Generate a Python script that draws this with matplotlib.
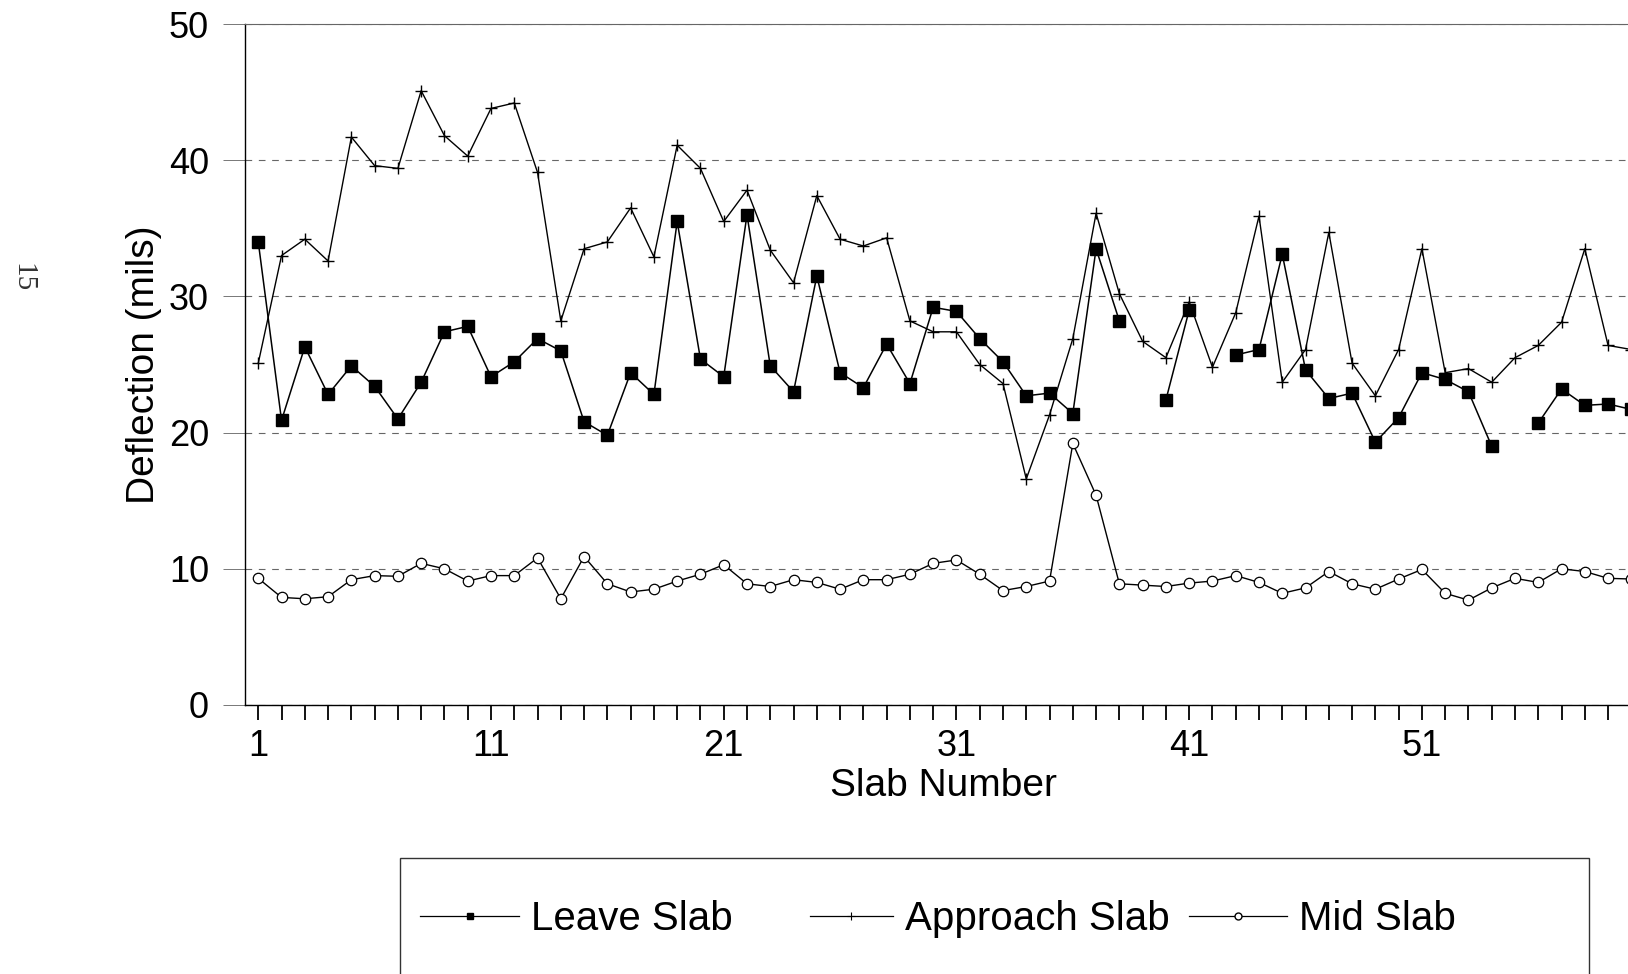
import matplotlib.pyplot as plt
import numpy as np
from matplotlib.lines import Line2D
from matplotlib.patches import Rectangle

nan = np.nan

# Slab numbers 1..60 (chart is cut at the right edge)
slabs = np.arange(1, 61)

leave_slab = [34.0, 20.9, 26.3, 22.8, 24.9, 23.4, 21.0, 23.7, 27.4, 27.8,
              24.1, 25.2, 26.9, 26.0, 20.8, 19.8, 24.4, 22.8, 35.5, 25.4,
              24.1, 36.0, 24.9, 23.0, 31.5, 24.4, 23.3, 26.5, 23.6, 29.2,
              28.9, 26.9, 25.2, 22.7, 22.9, 21.4, 33.5, 28.2, nan, 22.4,
              29.0, nan, 25.7, 26.1, 33.1, 24.6, 22.5, 22.9, 19.3, 21.1,
              24.4, 23.9, 23.0, 19.0, nan, 20.7, 23.2, 22.0, 22.1, 21.7]

approach_slab = [25.1, 33.0, 34.2, 32.6, 41.7, 39.6, 39.4, 45.1, 41.8, 40.3,
                 43.8, 44.2, 39.1, 28.2, 33.5, 34.0, 36.5, 32.9, 41.1, 39.4,
                 35.5, 37.8, 33.4, 31.0, 37.4, 34.2, 33.7, 34.3, 28.2, 27.4,
                 27.4, 25.0, 23.6, 16.6, 21.3, 26.9, 36.1, 30.2, 26.7, 25.5,
                 29.6, 24.8, 28.8, 35.9, 23.7, 26.1, 34.7, 25.1, 22.7, 26.1,
                 33.5, 24.4, 24.7, 23.7, 25.5, 26.4, 28.1, 33.5, 26.4, 26.1]

mid_slab = [9.3, 7.9, 7.8, 7.95, 9.2, 9.5, 9.45, 10.4, 10.0, 9.1,
            9.5, 9.5, 10.8, 7.8, 10.9, 8.9, 8.3, 8.5, 9.1, 9.6,
            10.3, 8.9, 8.7, 9.2, 9.0, 8.5, 9.2, 9.2, 9.6, 10.4,
            10.65, 9.6, 8.4, 8.7, 9.1, 19.2, 15.4, 8.9, 8.8, 8.7,
            8.95, 9.1, 9.5, 9.0, 8.2, 8.6, 9.8, 8.9, 8.5, 9.25,
            9.95, 8.2, 7.7, 8.6, 9.3, 9.0, 10.0, 9.8, 9.3, 9.25]

x_labeled = [1, 11, 21, 31, 41, 51]
y_ticks = [0, 10, 20, 30, 40, 50]

FONT = ['Liberation Sans', 'DejaVu Sans']
plt.rcParams['font.family'] = FONT

W, H = 1628, 974
fig = plt.figure(figsize=(W / 100, H / 100), dpi=100)
ax = fig.add_axes([245 / W, 1 - 705 / H, 1398 / W, 681 / H])

ax.plot(slabs, leave_slab, color='black', lw=1.1, marker='s', ms=8.3,
        mfc='black', mec='black', zorder=3)
ax.plot(slabs, approach_slab, color='black', lw=1.0, marker='+', ms=9,
        mew=1.0, zorder=3)
ax.plot(slabs, mid_slab, color='black', lw=1.0, marker='o', ms=7.5,
        mfc='white', mec='black', mew=0.9, zorder=3)

ax.set_xlim(0.43, 60.5)
ax.set_ylim(0, 50)

# x ticks at every slab, labels only every 10th
ax.set_xticks(slabs)
ax.set_xticklabels([str(s) if s in x_labeled else '' for s in slabs])
ax.tick_params(axis='x', direction='out', length=11, width=1.3,
               labelsize=26, pad=6, colors='black')

ax.set_yticks(y_ticks)
ax.tick_params(axis='y', direction='out', length=16, width=0.7,
               labelsize=26, pad=10, color='#777777')

ax.grid(axis='y', linestyle=(0, (6, 6)), color='#666666', lw=0.8, zorder=0)

for side in ['left', 'bottom']:
    ax.spines[side].set_linewidth(1.0)
ax.spines['top'].set_linewidth(0.8)
ax.spines['top'].set_color('#666666')

ax.set_ylabel('Deflection (mils)', fontsize=28)
ax.yaxis.set_label_coords(-0.0594, 0.5)
ax.set_xlabel('Slab Number', fontsize=28)
ax.xaxis.set_label_coords(0.5, -0.092)

# legend, drawn as three entries inside one frame
legend_entries = [
    (Line2D([], [], color='black', lw=0.9, marker='s', ms=5), 'Leave Slab', 420, 2.46),
    (Line2D([], [], color='black', lw=0.9, marker='+', ms=6, mew=0.8), 'Approach Slab', 810, 2.06),
    (Line2D([], [], color='black', lw=0.9, marker='o', ms=5, mfc='white'), 'Mid Slab', 1189, 2.43),
]
for handle, label, x0, hl in legend_entries:
    fig.legend(handles=[handle], labels=[label], loc='center left',
               bbox_to_anchor=(x0 / W, 1 - 919 / H), frameon=False,
               borderpad=0, borderaxespad=0, handlelength=hl,
               handletextpad=0.3, prop={'family': FONT, 'size': 29})

frame = Rectangle((400 / W, -0.05), (1589 - 400) / W, 0.05 + 1 - 858 / H,
                  transform=fig.transFigure, fill=False, edgecolor='#333333',
                  lw=1.0)
fig.add_artist(frame)

# page number in the margin
fig.text(22 / W, 1 - 278 / H, '15', rotation=-90, ha='center', va='center',
         fontsize=21, family=['Liberation Serif', 'DejaVu Serif'], color='#333333')

fig.savefig('out.png', dpi=100)
